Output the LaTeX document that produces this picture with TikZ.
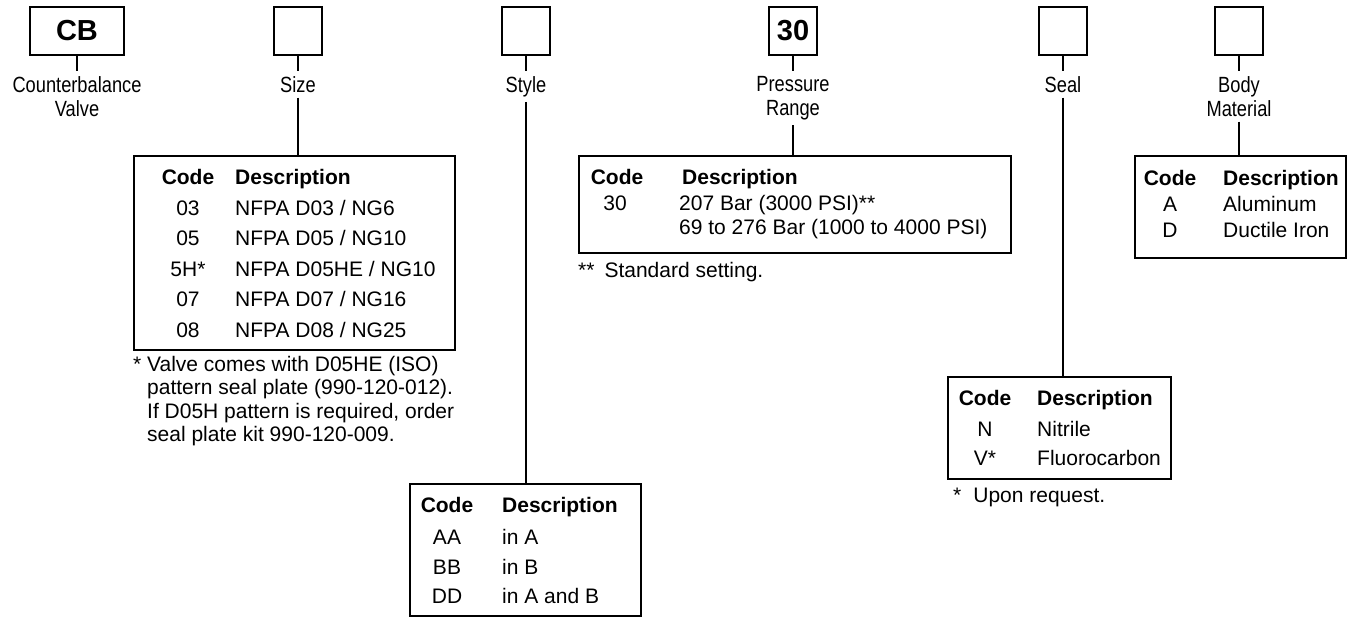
\documentclass[tikz,border=0pt]{standalone}
\usepackage{fontspec}
\setmainfont{Liberation Sans}
\newfontfamily\narrowfont{Liberation Sans}[FakeStretch=0.83]
\tikzset{
  selbox/.style={draw, line width=1.5pt, minimum width=48pt, minimum height=48pt, inner sep=0pt, font=\fontsize{29}{30}\selectfont\bfseries},
  lab/.style={anchor=north, inner xsep=0pt, inner ysep=5pt, align=center, font=\narrowfont\fontsize{22}{24}\selectfont},
  tab/.style={draw, line width=1.5pt, anchor=north west, inner sep=0pt},
  head/.style={anchor=base, inner sep=0pt, font=\fontsize{21}{25}\selectfont\bfseries},
  cell/.style={anchor=base, inner sep=0pt, font=\fontsize{21}{25}\selectfont},
  note/.style={anchor=base west, inner sep=0pt, align=left, font=\fontsize{21}{23.5}\selectfont},
  lnk/.style={line width=1.2pt}
}
\begin{document}
\begin{tikzpicture}[x=1pt,y=-1pt]
    \useasboundingbox (0,0) rectangle (1354,616);
    %caselle del codice
    \node[selbox, minimum width=94pt] (cb) at (77,31) {CB};
    \node[selbox] (size) at (298,31) {};
    \node[selbox] (style) at (526,31) {};
    \node[selbox] (press) at (793,31) {30};
    \node[selbox] (seal) at (1063,31) {};
    \node[selbox] (body) at (1239,31) {};
    %etichette
    \node[lab] (cblab) at (77,71) {Counterbalance\\Valve};
    \node[lab] (sizelab) at (298,71) {Size};
    \node[lab] (stylelab) at (526,71) {Style};
    \node[lab] (presslab) at (793,71) {Pressure\\Range};
    \node[lab] (seallab) at (1063,71) {Seal};
    \node[lab] (bodylab) at (1239,71) {Body\\Material};
    \foreach \n in {cb,size,style,press,seal,body}
        \draw[lnk] (\n.south) -- (\n lab.north);
    %tabelle
    \node[tab, minimum width=321pt, minimum height=194pt] (sizetab) at (133,155) {};
    \node[tab, minimum width=231pt, minimum height=132pt] (styletab) at (409,483) {};
    \node[tab, minimum width=432pt, minimum height=97pt] (presstab) at (578,155) {};
    \node[tab, minimum width=223pt, minimum height=102pt] (sealtab) at (947,376) {};
    \node[tab, minimum width=211pt, minimum height=102pt] (bodytab) at (1134,155) {};
    \foreach \n in {size,style,press,seal,body}
        \draw[lnk] (\n lab.south) -- (\n lab.south |- \n tab.north);
    %tabella Size
    \node[head] (sizecode) at (188,184.5) {Code};
    \node[head, anchor=base west] (sizedesc) at (235,184.5) {Description};
    \foreach \c/\d/\y in {03/{NFPA D03 / NG6}/215, 05/{NFPA D05 / NG10}/245.5, 5H*/{NFPA D05HE / NG10}/276, 07/{NFPA D07 / NG16}/306.5, 08/{NFPA D08 / NG25}/337}{
        \node[cell] at (188,\y) {\c};
        \node[cell, anchor=base west] at (235,\y) {\d};
    }
    \node[note] (sizenote) at (133,441.5) {* Valve comes with D05HE (ISO)\\
        \phantom{*} pattern seal plate (990-120-012).\\
        \phantom{*} If D05H pattern is required, order\\
        \phantom{*} seal plate kit 990-120-009.};
    %tabella Style
    \node[head] (stylecode) at (447,512.5) {Code};
    \node[head, anchor=base west] (styledesc) at (502,512.5) {Description};
    \foreach \c/\d/\y in {AA/in A/544.5, BB/in B/574.5, DD/in A and B/603.5}{
        \node[cell] at (447,\y) {\c};
        \node[cell, anchor=base west] at (502,\y) {\d};
    }
    %tabella Pressure Range
    \node[head] (presscode) at (617,184.5) {Code};
    \node[head, anchor=base west] (pressdesc) at (682,184.5) {Description};
    \node[cell] at (615,210.5) {30};
    \node[cell, anchor=base west] at (679,210.5) {207 Bar (3000 PSI)**};
    \node[cell, anchor=base west] at (679,234.5) {69 to 276 Bar (1000 to 4000 PSI)};
    \node[note] (pressnote) at (578,277.5) {**\hspace{10pt}Standard setting.};
    %tabella Seal
    \node[head] (sealcode) at (985,405.5) {Code};
    \node[head, anchor=base west] (sealdesc) at (1037,405.5) {Description};
    \foreach \c/\d/\y in {N/Nitrile/436.5, V*/Fluorocarbon/465.5}{
        \node[cell] at (985,\y) {\c};
        \node[cell, anchor=base west] at (1037,\y) {\d};
    }
    \node[note] (sealnote) at (953,502.5) {*\hspace{12pt}Upon request.};
    %tabella Body Material
    \node[head] (bodycode) at (1170,185.5) {Code};
    \node[head, anchor=base west] (bodydesc) at (1223,185.5) {Description};
    \foreach \c/\d/\y in {A/Aluminum/211.5, D/Ductile Iron/237.5}{
        \node[cell] at (1170,\y) {\c};
        \node[cell, anchor=base west] at (1223,\y) {\d};
    }
\end{tikzpicture}
\end{document}
